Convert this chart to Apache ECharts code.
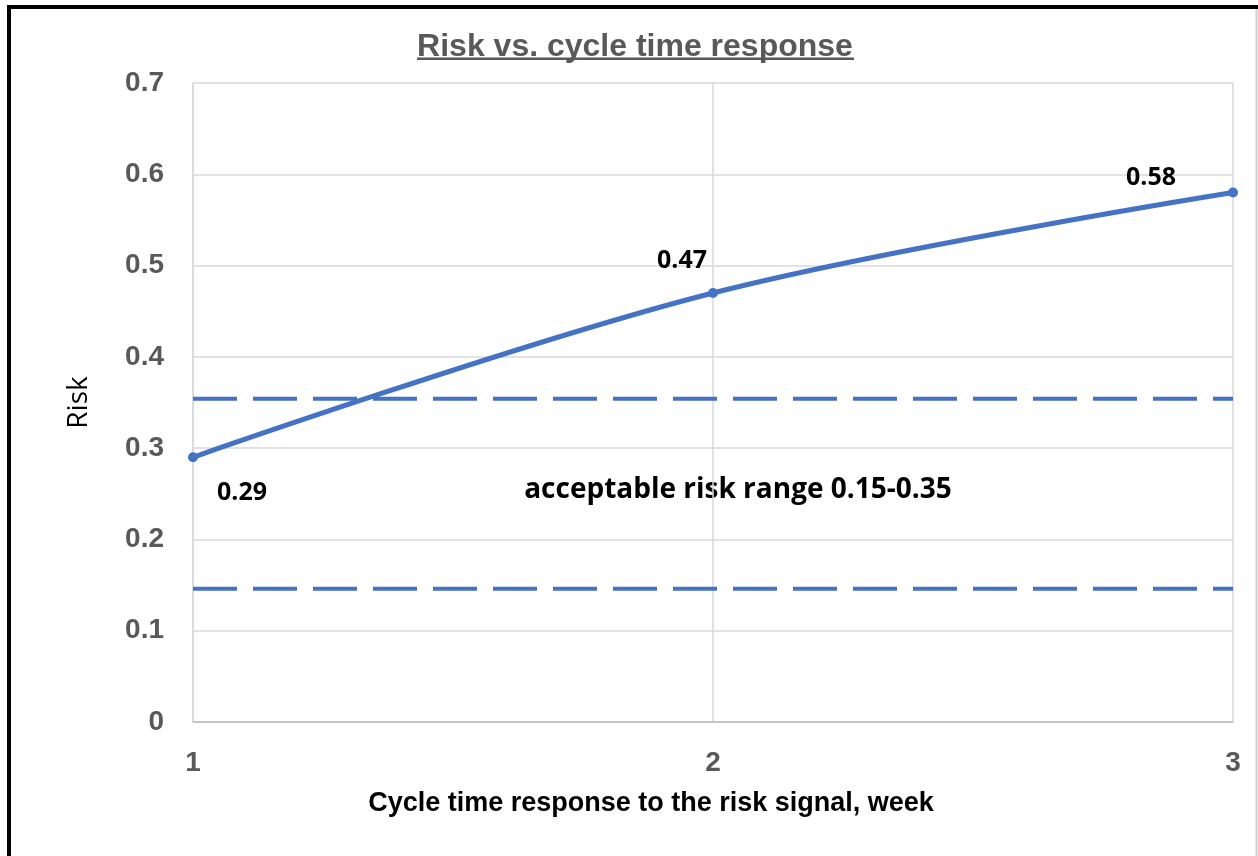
<!DOCTYPE html>
<html>
<head>
<meta charset="utf-8">
<script src="https://cdn.jsdelivr.net/npm/echarts@6/dist/echarts.min.js"></script>
<style>
  html, body { margin: 0; padding: 0; background: #fff; }
  #chart { width: 1258px; height: 856px; }
</style>
</head>
<body>
<div id="chart"></div>
<script>
// 周数与风险值
const weeks = [1, 2, 3]
const riskValues = [0.29, 0.47, 0.58]
// 可接受风险区间的上下虚线
const rangeUpper = 0.354
const rangeLower = 0.146
const rangeNote = 'acceptable risk range 0.15-0.35'
// y 轴刻度
const yTicks = [0, 0.1, 0.2, 0.3, 0.4, 0.5, 0.6, 0.7]

// 数据标签的偏移 (相对数据点)
const labelOffsets = [[49, 36], [-31, -32], [-82, -15]]

const blue = '#4472C4'
const gray = '#595959'
const tickFont = '"Liberation Sans", Arial, sans-serif'

const chart = echarts.init(document.getElementById('chart'))

const riskData = weeks.map((w, i) => ({
  value: [w, riskValues[i]],
  label: { offset: labelOffsets[i] }
}))

const option = {
  animation: false,
  title: {
    text: 'Risk vs. cycle time response',
    left: 630,
    top: 26,
    textAlign: 'center',
    textStyle: {
      fontFamily: '"Liberation Sans", Arial, sans-serif',
      fontWeight: 'bold',
      fontSize: 32,
      color: gray
    }
  },
  grid: {
    left: 193,
    right: 25,
    top: 83,
    bottom: 134
  },
  xAxis: {
    type: 'value',
    min: 1,
    max: 3,
    interval: 1,
    name: 'Cycle time response to the risk signal, week',
    nameLocation: 'middle',
    nameGap: 68,
    nameTextStyle: {
      fontFamily: tickFont,
      fontWeight: 'bold',
      fontSize: 27,
      color: '#000',
      padding: [0, 124, 0, 0]
    },
    axisLine: { lineStyle: { color: '#bfbfbf', width: 1.5 } },
    axisTick: { show: false },
    axisLabel: {
      margin: 27,
      fontFamily: tickFont,
      fontWeight: 'bold',
      fontSize: 28,
      color: gray
    },
    splitLine: { show: true, lineStyle: { color: '#d9d9d9', width: 1.5 } }
  },
  yAxis: {
    type: 'value',
    min: yTicks[0],
    max: yTicks[yTicks.length - 1],
    interval: 0.1,
    name: 'Risk',
    nameLocation: 'middle',
    nameRotate: 90,
    nameGap: 100,
    nameTextStyle: {
      fontFamily: '"Open Sans", sans-serif',
      fontSize: 28,
      color: '#000'
    },
    axisLine: { show: true, lineStyle: { color: '#d9d9d9', width: 1.5 } },
    axisTick: { show: false },
    axisLabel: {
      margin: 29,
      fontFamily: tickFont,
      fontWeight: 'bold',
      fontSize: 28,
      color: gray,
      formatter: v => String(Math.round(v * 10) / 10)
    },
    splitLine: { lineStyle: { color: '#d9d9d9', width: 1.5 } }
  },
  series: [
    {
      name: 'upper',
      type: 'line',
      data: [[weeks[0], rangeUpper], [weeks[weeks.length - 1], rangeUpper]],
      symbol: 'none',
      lineStyle: { color: blue, width: 4, type: [44, 16] },
      z: 2
    },
    {
      name: 'lower',
      type: 'line',
      data: [[weeks[0], rangeLower], [weeks[weeks.length - 1], rangeLower]],
      symbol: 'none',
      lineStyle: { color: blue, width: 4, type: [44, 16] },
      z: 2
    },
    {
      name: 'Risk',
      type: 'line',
      data: riskData,
      smooth: 0.35,
      symbol: 'circle',
      symbolSize: 10,
      itemStyle: { color: blue },
      lineStyle: { color: blue, width: 5 },
      label: {
        show: true,
        position: 'inside',
        formatter: p => p.value[1].toFixed(2),
        fontFamily: '"Open Sans", sans-serif',
        fontWeight: 'bold',
        fontSize: 25,
        color: '#000'
      },
      z: 3
    }
  ],
  graphic: [
    // 外框 (上/左黑线, 右侧灰线)
    { type: 'line', shape: { x1: 7, y1: 7, x2: 1258, y2: 7 }, style: { stroke: '#000', lineWidth: 4 } },
    { type: 'line', shape: { x1: 9, y1: 5, x2: 9, y2: 856 }, style: { stroke: '#000', lineWidth: 4 } },
    { type: 'line', shape: { x1: 1256.5, y1: 9, x2: 1256.5, y2: 856 }, style: { stroke: '#d0d0d0', lineWidth: 2 } },
    // 标题下划线
    { type: 'rect', shape: { x: 417, y: 57.5, width: 437, height: 2.5 }, style: { fill: gray } },
    // 区间说明
    {
      type: 'text',
      x: 738,
      y: 490,
      style: {
        text: rangeNote,
        align: 'center',
        verticalAlign: 'middle',
        fontFamily: '"Open Sans", sans-serif',
        fontWeight: 'bold',
        fontSize: 28,
        fill: '#000'
      }
    }
  ]
}

chart.setOption(option)
</script>
</body>
</html>
